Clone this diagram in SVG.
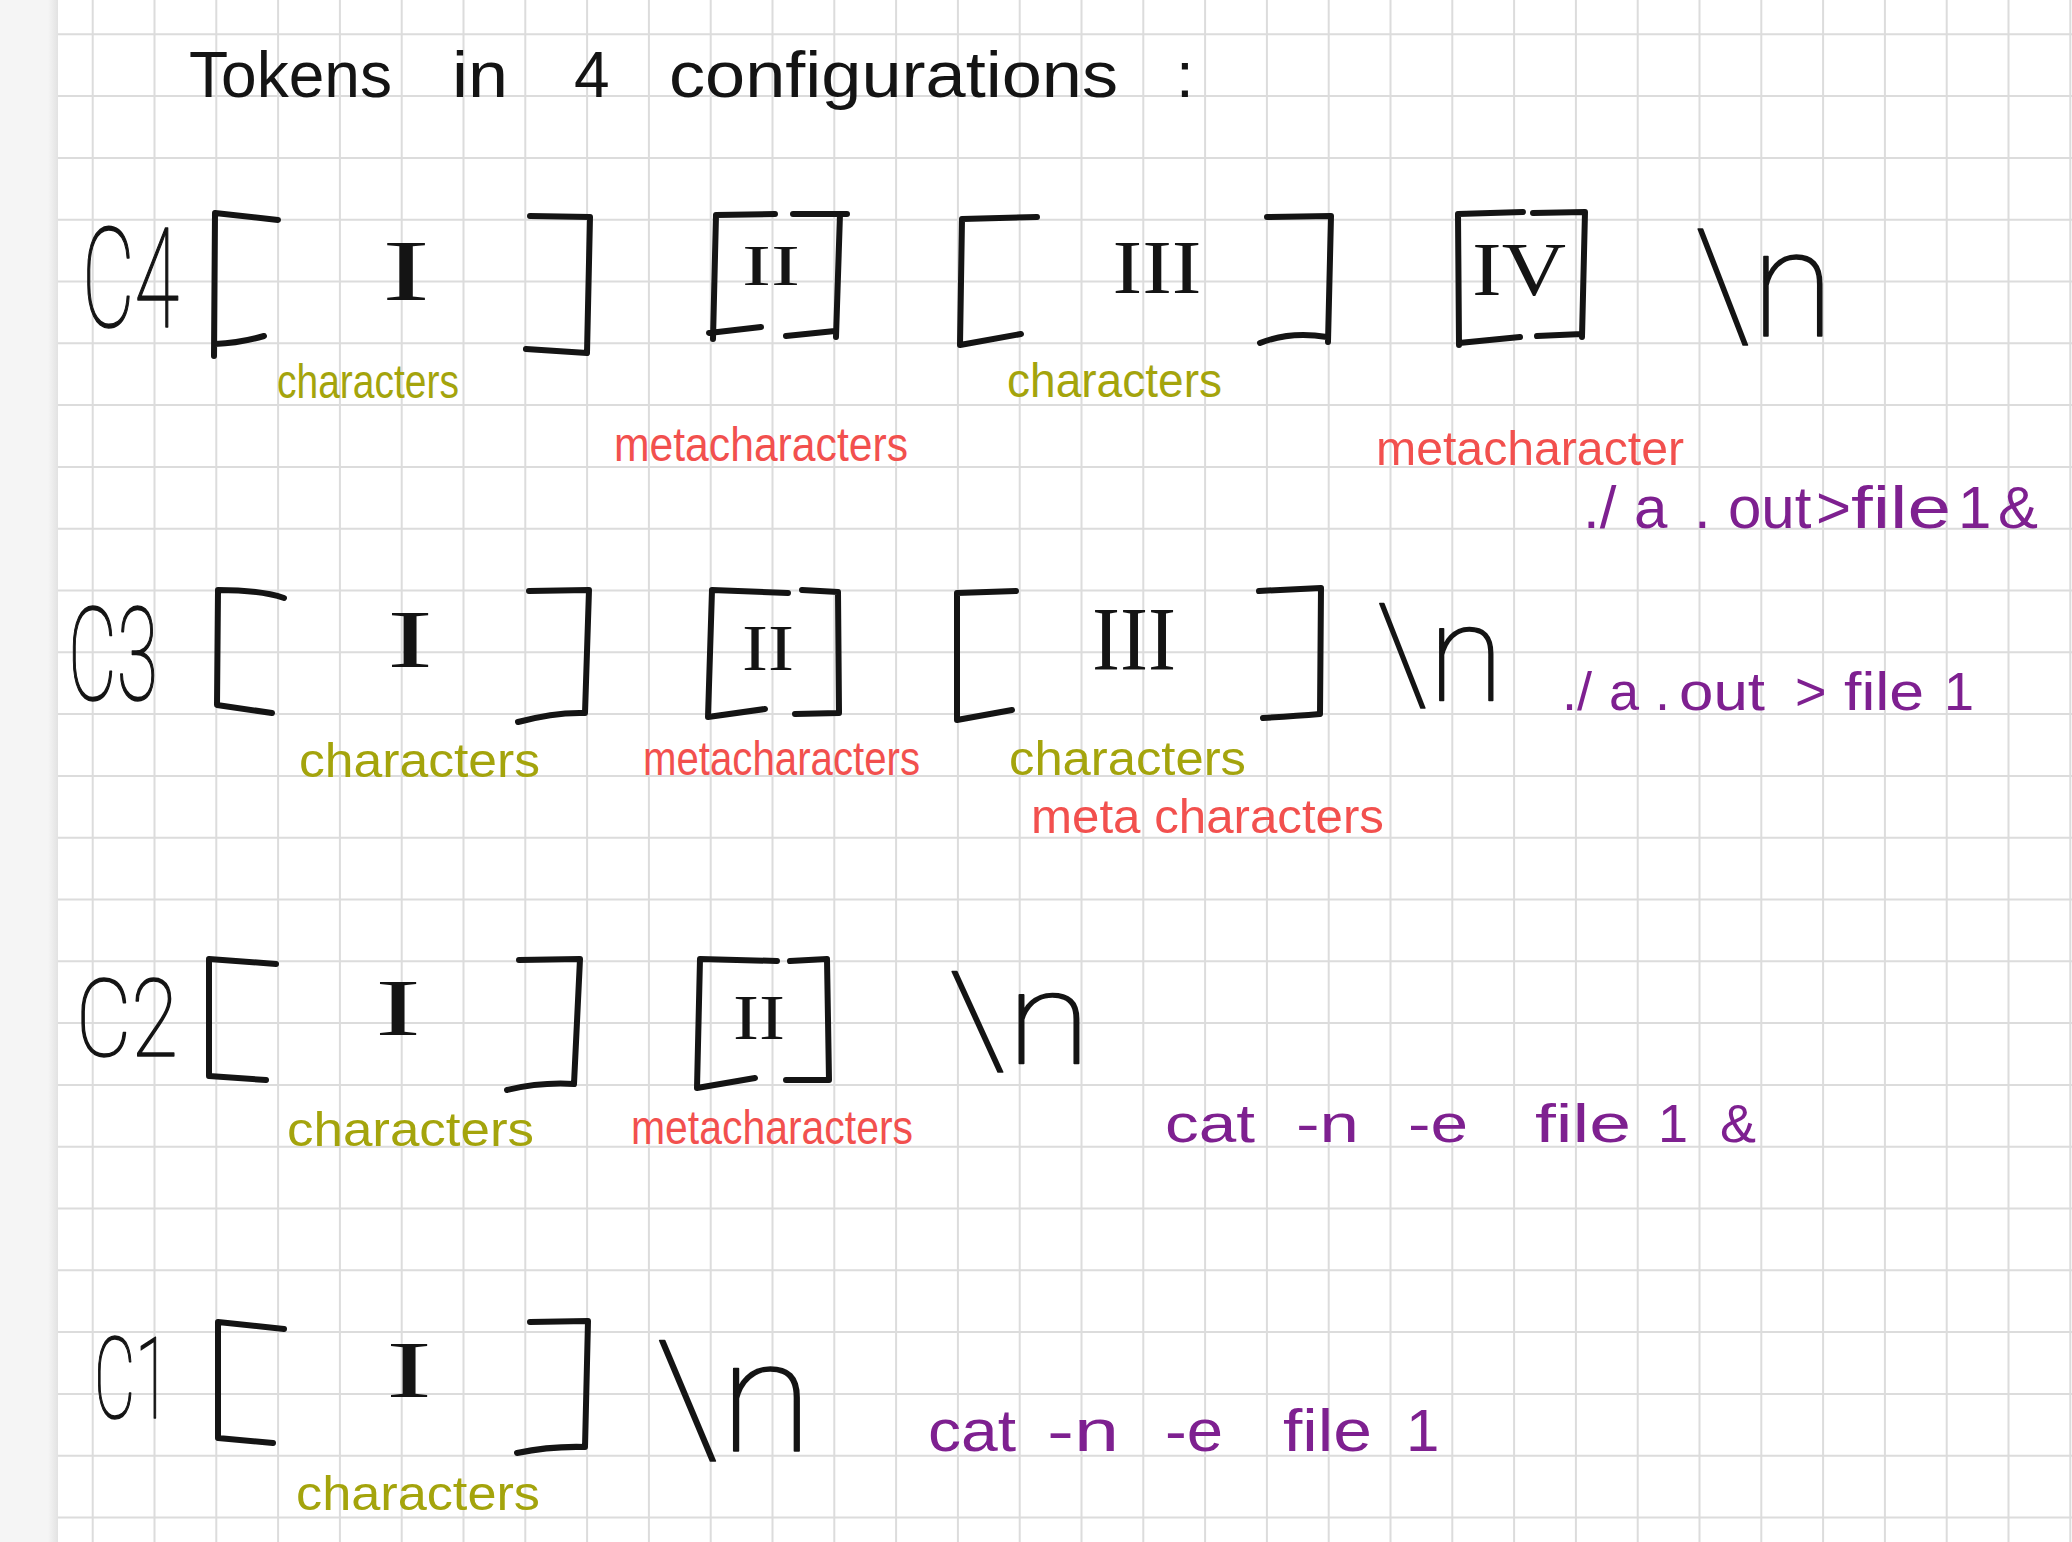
<svg xmlns="http://www.w3.org/2000/svg" width="2072" height="1542" viewBox="0 0 2072 1542">
<defs>
<linearGradient id="shade" x1="0" y1="0" x2="1" y2="0">
<stop offset="0" stop-color="#f5f5f5"/>
<stop offset="1" stop-color="#e2e2e2"/>
</linearGradient>
<style>
.grid{fill:none;stroke:#dcdcdc;stroke-width:2}
.br{fill:none;stroke:#141414;stroke-width:6;stroke-linecap:round;stroke-linejoin:round}
.big{font-family:Roboto,"Liberation Sans",sans-serif;font-weight:100;fill:#141414;stroke:#141414;stroke-width:1.6;stroke-linejoin:round}
.rom{font-family:"Liberation Serif","DejaVu Serif",serif;fill:#141414;text-anchor:middle}
.hw{font-family:"Liberation Sans",Arial,sans-serif;fill:#141414}
.ol{font-family:"Liberation Sans",Arial,sans-serif;fill:#a4a40c;font-size:48px}
.rd{font-family:"Liberation Sans",Arial,sans-serif;fill:#f2504e;font-size:48px}
.pu{font-family:"Liberation Sans",Arial,sans-serif;fill:#7e2090}
</style>
</defs>
<rect x="0" y="0" width="2072" height="1542" fill="#ffffff"/>
<rect x="0" y="0" width="58" height="1542" fill="#f5f5f5"/>
<rect x="48" y="0" width="10" height="1542" fill="url(#shade)"/>
<g id="paper-grid">
<path class="grid" d="M92.7 0V1542M154.5 0V1542M216.3 0V1542M278.1 0V1542M339.9 0V1542M401.7 0V1542M463.5 0V1542M525.3 0V1542M587.1 0V1542M648.9 0V1542M710.7 0V1542M772.5 0V1542M834.3 0V1542M896.1 0V1542M957.9 0V1542M1019.7 0V1542M1081.5 0V1542M1143.3 0V1542M1205.1 0V1542M1266.9 0V1542M1328.7 0V1542M1390.5 0V1542M1452.3 0V1542M1514.1 0V1542M1575.9 0V1542M1637.7 0V1542M1699.5 0V1542M1761.3 0V1542M1823.1 0V1542M1884.9 0V1542M1946.7 0V1542M2008.5 0V1542M2070.3 0V1542"/>
<path class="grid" d="M58 34.3H2072M58 96.1H2072M58 157.9H2072M58 219.7H2072M58 281.5H2072M58 343.3H2072M58 405.1H2072M58 466.9H2072M58 528.7H2072M58 590.5H2072M58 652.3H2072M58 714.1H2072M58 775.9H2072M58 837.7H2072M58 899.5H2072M58 961.3H2072M58 1023.1H2072M58 1084.9H2072M58 1146.7H2072M58 1208.5H2072M58 1270.3H2072M58 1332.1H2072M58 1393.9H2072M58 1455.7H2072M58 1517.5H2072"/>
</g>

<g id="title">
<text class="hw" y="97" font-size="64"><tspan x="189" textLength="203" lengthAdjust="spacingAndGlyphs">Tokens</tspan> <tspan x="452" textLength="56" lengthAdjust="spacingAndGlyphs">in</tspan> <tspan x="574">4</tspan> <tspan x="669" textLength="449" lengthAdjust="spacingAndGlyphs">configurations</tspan> <tspan x="1176">:</tspan></text>
</g>

<!-- C4 -->
<g id="c4">
<g id="c4-name"><text class="big" x="82" y="327" font-size="140" textLength="97" lengthAdjust="spacingAndGlyphs">C4</text></g>
<g id="c4-tok1">
<path class="br" d="M278 220L215 213L214 356M215 344Q240 343 264 336"/>
<path class="br" d="M530 216L590 217L587 353M526 349L587 353"/>
<text class="rom" x="406" y="300" font-size="86" textLength="48" lengthAdjust="spacingAndGlyphs">I</text>
<text class="ol" x="277" y="398" textLength="182" lengthAdjust="spacingAndGlyphs">characters</text>
</g>
<g id="c4-tok2">
<path class="br" d="M775 214L716 215L713 339M709 333L761 327"/>
<path class="br" d="M793 214L847 214M840 214L836 337M786 336L835 331"/>
<text class="rom" x="771" y="285" font-size="57" textLength="58" lengthAdjust="spacingAndGlyphs">II</text>
<text class="rd" x="614" y="461" textLength="294" lengthAdjust="spacingAndGlyphs">metacharacters</text>
</g>
<g id="c4-tok3">
<path class="br" d="M1037 217L962 219L960 345L1021 334"/>
<path class="br" d="M1267 217L1331 216L1328 342M1260 343Q1290 331 1327 337"/>
<text class="rom" x="1157" y="293" font-size="77" textLength="89" lengthAdjust="spacingAndGlyphs">III</text>
<text class="ol" x="1007" y="397" textLength="215" lengthAdjust="spacingAndGlyphs">characters</text>
</g>
<g id="c4-tok4">
<path class="br" d="M1523 212L1458 214L1459 345M1459 343L1520 337"/>
<path class="br" d="M1533 213L1585 212L1582 337M1537 336L1582 334"/>
<text class="rom" x="1519" y="295" font-size="76" textLength="94" lengthAdjust="spacingAndGlyphs">IV</text>
<text class="rd" x="1376" y="465" textLength="308" lengthAdjust="spacingAndGlyphs">metacharacter</text>
</g>
<g id="c4-newline"><text class="big" x="1694" y="336" font-size="150" textLength="140" lengthAdjust="spacingAndGlyphs">\n</text></g>
<g id="c4-example"><text class="pu" y="528" font-size="60"><tspan x="1583">./</tspan><tspan x="1634">a</tspan><tspan x="1694">.</tspan> <tspan x="1728">out</tspan> <tspan x="1816">&gt;</tspan><tspan x="1851" textLength="100" lengthAdjust="spacingAndGlyphs">file</tspan><tspan x="1958">1</tspan> <tspan x="1998">&amp;</tspan></text></g>
</g>

<!-- C3 -->
<g id="c3">
<g id="c3-name"><text class="big" x="68" y="700" font-size="130" textLength="90" lengthAdjust="spacingAndGlyphs">C3</text></g>
<g id="c3-tok1">
<path class="br" d="M284 598Q260 590 218 590L217 705L272 713"/>
<path class="br" d="M529 591L589 590L585 713Q555 712 518 722"/>
<text class="rom" x="410" y="667" font-size="83" textLength="46" lengthAdjust="spacingAndGlyphs">I</text>
<text class="ol" x="299" y="777" textLength="241" lengthAdjust="spacingAndGlyphs">characters</text>
</g>
<g id="c3-tok2">
<path class="br" d="M788 593L712 590L708 717L765 709"/>
<path class="br" d="M802 590L838 592L839 713L795 714"/>
<text class="rom" x="768" y="670" font-size="65" textLength="52" lengthAdjust="spacingAndGlyphs">II</text>
<text class="rd" x="643" y="775" textLength="277" lengthAdjust="spacingAndGlyphs">metacharacters</text>
</g>
<g id="c3-tok3">
<path class="br" d="M1016 591L957 593L957 720L1012 710"/>
<path class="br" d="M1259 591L1321 588L1320 714Q1295 716 1263 718"/>
<text class="rom" x="1134" y="670" font-size="90" textLength="84" lengthAdjust="spacingAndGlyphs">III</text>
<text class="ol" x="1009" y="775" textLength="237" lengthAdjust="spacingAndGlyphs">characters</text>
<text class="rd" x="1031" y="833" textLength="353" lengthAdjust="spacingAndGlyphs">meta characters</text>
</g>
<g id="c3-newline"><text class="big" x="1376" y="700" font-size="135" textLength="128" lengthAdjust="spacingAndGlyphs">\n</text></g>
<g id="c3-example"><text class="pu" y="710" font-size="54"><tspan x="1562">./</tspan><tspan x="1609">a</tspan><tspan x="1655">.</tspan><tspan x="1679" textLength="86" lengthAdjust="spacingAndGlyphs">out</tspan> <tspan x="1795">&gt;</tspan> <tspan x="1844" textLength="80" lengthAdjust="spacingAndGlyphs">file</tspan><tspan x="1944">1</tspan></text></g>
</g>

<!-- C2 -->
<g id="c2">
<g id="c2-name"><text class="big" x="76" y="1056" font-size="108" textLength="102" lengthAdjust="spacingAndGlyphs">C2</text></g>
<g id="c2-tok1">
<path class="br" d="M276 964L209 959L209 1076L266 1080"/>
<path class="br" d="M519 960L580 959L574 1084Q540 1082 507 1090"/>
<text class="rom" x="398" y="1035" font-size="80" textLength="46" lengthAdjust="spacingAndGlyphs">I</text>
<text class="ol" x="287" y="1146" textLength="247" lengthAdjust="spacingAndGlyphs">characters</text>
</g>
<g id="c2-tok2">
<path class="br" d="M777 961L700 959L697 1088L755 1078"/>
<path class="br" d="M790 961L827 959L829 1080L786 1080"/>
<text class="rom" x="759" y="1039" font-size="64" textLength="52" lengthAdjust="spacingAndGlyphs">II</text>
<text class="rd" x="631" y="1144" textLength="282" lengthAdjust="spacingAndGlyphs">metacharacters</text>
</g>
<g id="c2-newline"><text class="big" x="948" y="1064" font-size="130" textLength="143" lengthAdjust="spacingAndGlyphs">\n</text></g>
<g id="c2-example"><text class="pu" y="1142" font-size="54"><tspan x="1165" textLength="90" lengthAdjust="spacingAndGlyphs">cat</tspan> <tspan x="1296" textLength="63" lengthAdjust="spacingAndGlyphs">-n</tspan> <tspan x="1408" textLength="60" lengthAdjust="spacingAndGlyphs">-e</tspan> <tspan x="1535" textLength="96" lengthAdjust="spacingAndGlyphs">file</tspan><tspan x="1658">1</tspan> <tspan x="1720">&amp;</tspan></text></g>
</g>

<!-- C1 -->
<g id="c1">
<g id="c1-name"><text class="big" x="94" y="1418" font-size="114" textLength="76" lengthAdjust="spacingAndGlyphs">C1</text></g>
<g id="c1-tok1">
<path class="br" d="M284 1329L218 1322L218 1438L273 1443"/>
<path class="br" d="M530 1322L588 1321L585 1447Q550 1446 517 1453"/>
<text class="rom" x="409" y="1397" font-size="80" textLength="46" lengthAdjust="spacingAndGlyphs">I</text>
<text class="ol" x="296" y="1510" textLength="244" lengthAdjust="spacingAndGlyphs">characters</text>
</g>
<g id="c1-newline"><text class="big" x="655" y="1451" font-size="155" textLength="158" lengthAdjust="spacingAndGlyphs">\n</text></g>
<g id="c1-example"><text class="pu" y="1451" font-size="60"><tspan x="928" textLength="88" lengthAdjust="spacingAndGlyphs">cat</tspan> <tspan x="1047" textLength="72" lengthAdjust="spacingAndGlyphs">-n</tspan> <tspan x="1165" textLength="58" lengthAdjust="spacingAndGlyphs">-e</tspan> <tspan x="1283" textLength="89" lengthAdjust="spacingAndGlyphs">file</tspan><tspan x="1406">1</tspan></text></g>
</g>
</svg>
